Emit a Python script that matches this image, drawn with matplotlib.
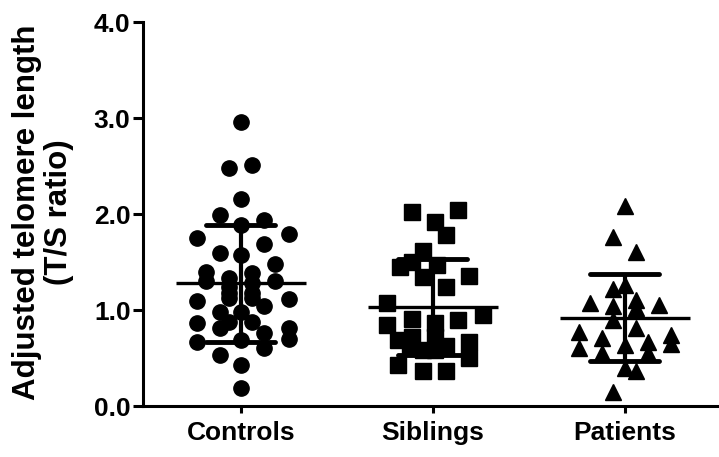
import numpy as np
import matplotlib
matplotlib.use('Agg')
from matplotlib import pyplot as plt

plt.rcParams['font.family'] = ['Liberation Sans', 'DejaVu Sans']
plt.rcParams['font.weight'] = 'bold'

# groups
categories = ['Controls', 'Siblings', 'Patients']
markers = ['o', 's', '^']
msizes = [11, 11, 12]

# values (T/S ratio)
controls = [2.96, 2.48, 2.51, 2.16, 1.99, 1.94, 1.89, 1.75, 1.79, 1.69,
            1.59, 1.57, 1.48, 1.40, 1.39, 1.30, 1.33, 1.30, 1.24, 1.28,
            1.18, 1.18, 1.12, 1.12, 1.09, 1.11, 1.04, 0.98, 0.98, 0.86,
            0.81, 0.88, 0.88, 0.81, 0.69, 0.67, 0.76, 0.60, 0.70, 0.53,
            0.43, 0.19]
siblings = [2.02, 2.04, 1.92, 1.78, 1.61, 1.45, 1.50, 1.47, 1.34, 1.35,
            1.24, 1.07, 0.95, 0.91, 0.86, 0.90, 0.84, 0.69, 0.72, 0.72,
            0.62, 0.67, 0.60, 0.58, 0.58, 0.50, 0.43, 0.36, 0.36]
patients = [2.08, 1.76, 1.60, 1.22, 1.26, 1.07, 1.04, 1.10, 1.05, 1.02,
            0.90, 0.77, 0.81, 0.74, 0.71, 0.67, 0.65, 0.60, 0.64, 0.55,
            0.55, 0.40, 0.36, 0.15]

# horizontal scatter of each point (category units), as in the picture
controls_dx = [0, -0.06, 0.06, 0, -0.11, 0.12, 0, -0.23, 0.25, 0.12,
               -0.11, 0, 0.18, -0.18, 0.06, -0.18, -0.06, 0.18, -0.06, 0.06,
               -0.06, 0.06, -0.06, 0.06, -0.23, 0.25, 0.12, -0.11, 0, -0.23,
               -0.11, -0.06, 0.06, 0.25, 0, -0.23, 0.12, 0.12, 0.25, -0.11,
               0, 0]
siblings_dx = [-0.11, 0.13, 0.01, 0.07, -0.05, -0.17, -0.11, 0.02, -0.05, 0.19,
               0.07, -0.24, 0.26, -0.11, 0.01, 0.13, -0.24, -0.18, -0.11, 0.01,
               0.07, 0.19, -0.12, -0.05, 0.01, 0.19, -0.18, -0.05, 0.07]
patients_dx = [0, -0.06, 0.06, -0.06, 0, -0.18, -0.06, 0.06, 0.18, 0.06,
               -0.06, -0.24, 0.06, 0.24, -0.12, 0.12, 0.24, -0.24, 0, -0.12,
               0.12, 0, 0.06, -0.06]

# mean and SD lines as drawn
means = [1.28, 1.03, 0.92]
sds = [0.61, 0.50, 0.45]

yticks = [0.0, 1.0, 2.0, 3.0, 4.0]

fig = plt.figure(figsize=(7.19, 4.57), dpi=100)
ax = fig.add_axes([143/719, 1 - 406/457, 1 - 143/719, (406 - 22)/457])

groups = [controls, siblings, patients]
offsets = [controls_dx, siblings_dx, patients_dx]
for i in range(3):
    xs = np.array(offsets[i]) + i + 1
    ax.plot(xs, groups[i], linestyle='none', marker=markers[i],
            markersize=msizes[i], color='black', clip_on=False)
    x0 = i + 1
    ax.hlines(means[i], x0 - 0.34, x0 + 0.34, color='black', lw=2.4)
    ax.vlines(x0, means[i] - sds[i], means[i] + sds[i], color='black', lw=3)
    ax.hlines([means[i] - sds[i], means[i] + sds[i]], x0 - 0.18, x0 + 0.18,
              color='black', lw=3.5, capstyle='round')

ax.set_xlim(0.49, 3.49)
ax.set_ylim(0, 4.0)
ax.set_yticks(yticks)
ax.set_yticklabels(['%.1f' % t for t in yticks], fontsize=19, fontweight='bold')
ax.set_xticks([1, 2, 3])
ax.set_xticklabels(categories, fontsize=19, fontweight='bold')

for s in ['top', 'right']:
    ax.spines[s].set_visible(False)
for s in ['left', 'bottom']:
    ax.spines[s].set_linewidth(2.2)
ax.tick_params(axis='y', length=7, width=2.2, pad=2)
ax.tick_params(axis='x', length=5, width=2.2, pad=6)

fig.text(43/719, 1 - 212/457, 'Adjusted telomere length\n(T/S ratio)',
         rotation=90, ha='center', va='center', multialignment='center',
         fontsize=22.5, fontweight='bold', linespacing=1.1)

fig.savefig('out.png', dpi=100)
